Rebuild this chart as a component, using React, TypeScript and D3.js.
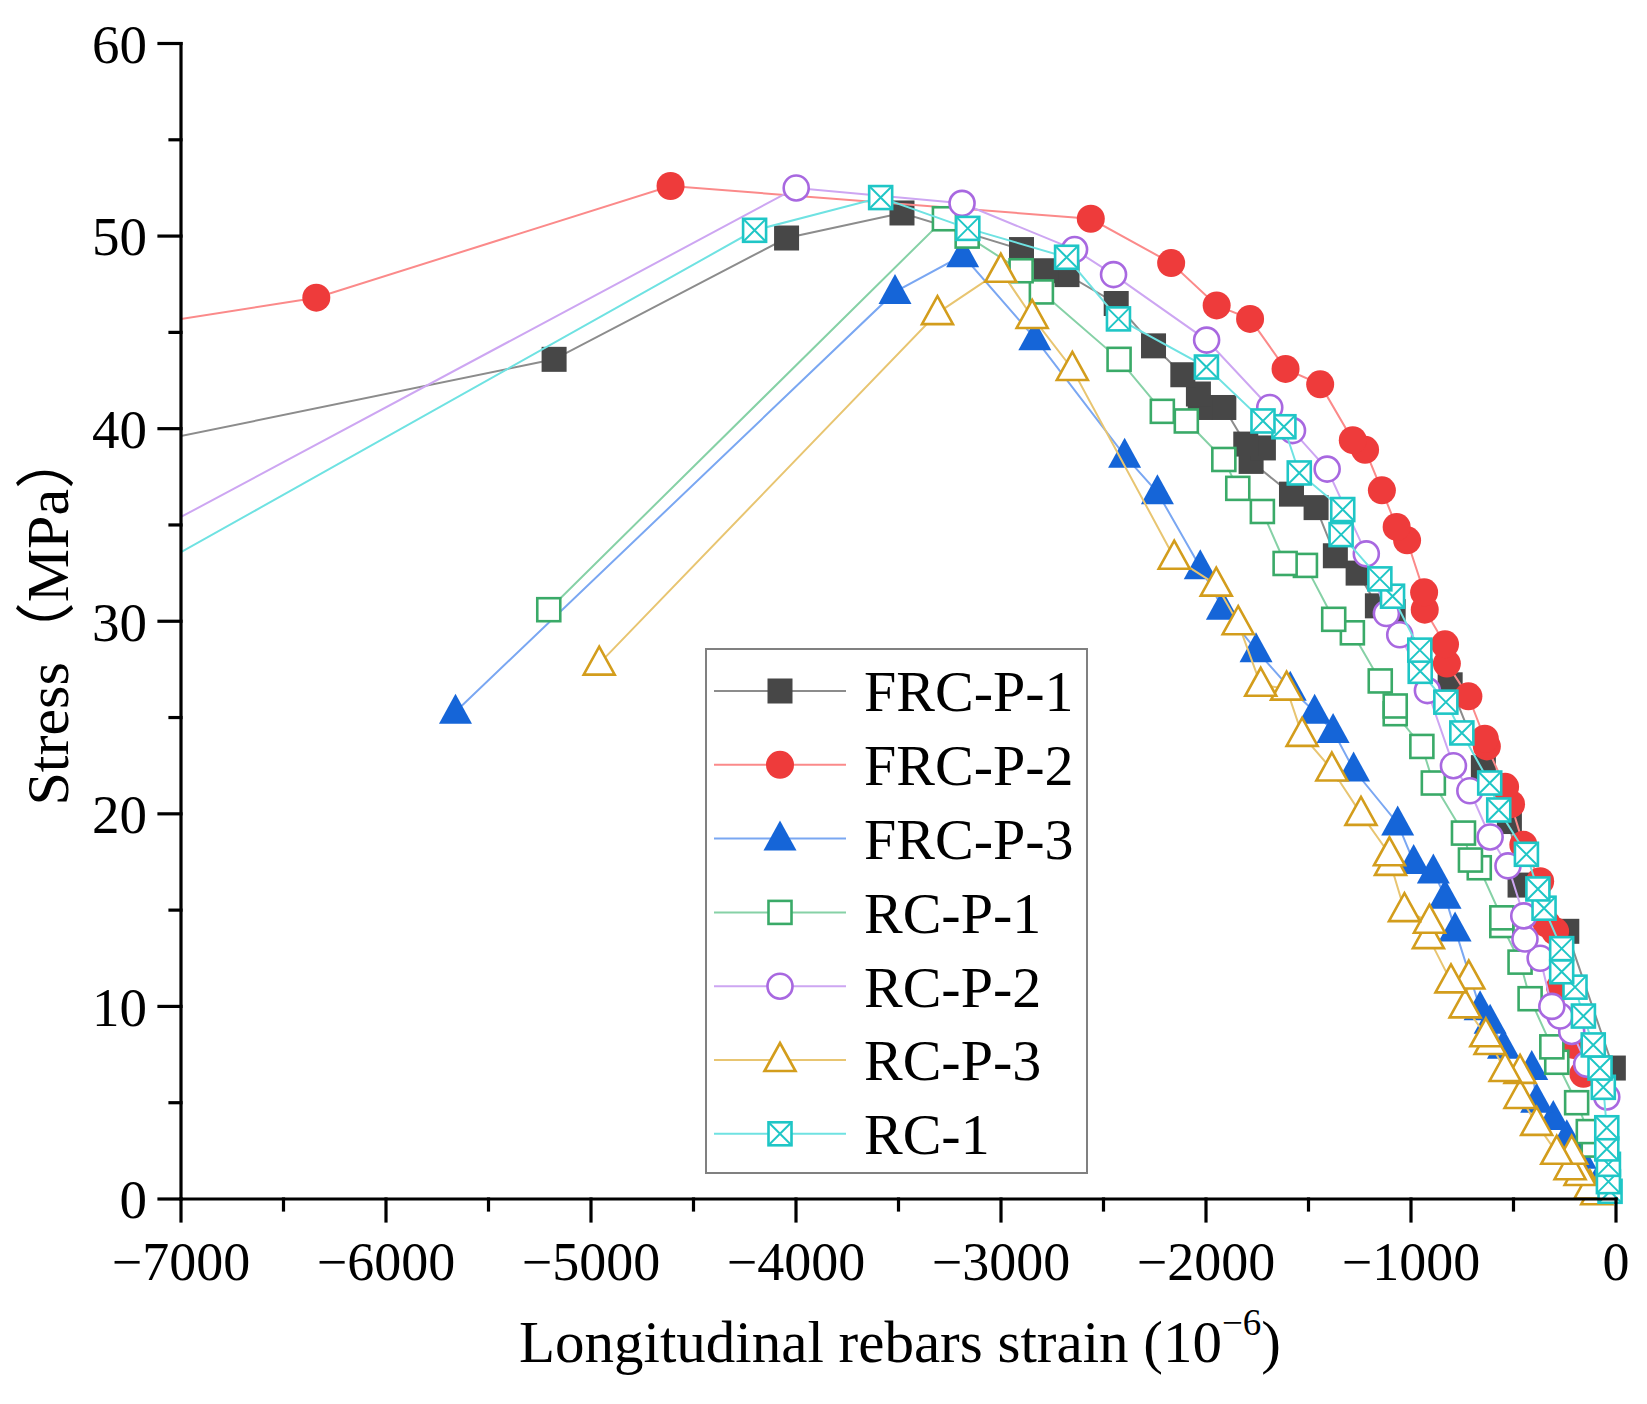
import * as d3 from 'd3'

// strain (10^-6), stress (MPa)
const frcP1: [number, number][] = [
  [-13, 6.8], [-240, 13.9], [-468, 16.3], [-520, 19.6], [-647, 22.4], [-809, 26.7],
  [-1087, 30.5], [-1164, 30.8], [-1258, 32.5], [-1369, 33.4], [-1463, 35.9], [-1583, 36.6],
  [-1780, 38.3], [-1720, 39.0], [-1806, 39.2], [-1913, 41.1], [-2028, 41.1], [-2037, 41.8],
  [-2113, 42.8], [-2256, 44.3], [-2438, 46.5], [-2678, 48.0], [-2780, 48.2], [-2900, 49.3],
  [-3483, 51.2], [-4046, 49.9], [-5180, 43.6], [-7600, 38.3],
]
const frcP2: [number, number][] = [
  [-159, 6.5], [-208, 8.0], [-273, 11.0], [-297, 13.9], [-338, 14.3], [-370, 16.5],
  [-452, 18.4], [-512, 20.5], [-541, 21.4], [-630, 23.5], [-640, 23.9], [-720, 26.1],
  [-825, 27.8], [-834, 28.8], [-933, 30.6], [-936, 31.5], [-1019, 34.2], [-1070, 34.9],
  [-1142, 36.8], [-1224, 38.9], [-1284, 39.4], [-1443, 42.3], [-1612, 43.1], [-1785, 45.7],
  [-1948, 46.4], [-2170, 48.6], [-2562, 50.9], [-4612, 52.6], [-6340, 46.8], [-7600, 44.7],
]
const frcP3: [number, number][] = [
  [-94, 0.8], [-175, 2.2], [-240, 3.2], [-306, 4.2], [-387, 5.1], [-411, 6.8],
  [-549, 7.9], [-614, 9.2], [-663, 9.9], [-785, 14.0], [-834, 15.7], [-891, 17.0],
  [-987, 17.5], [-1065, 19.5], [-1280, 22.3], [-1380, 24.3], [-1470, 25.3], [-1589, 26.5],
  [-1756, 28.5], [-1920, 30.7], [-2028, 32.8], [-2237, 36.7], [-2397, 38.6], [-2835, 44.7],
  [-3187, 49.0], [-3517, 47.1], [-5661, 25.3],
]
const rcP1: [number, number][] = [
  [-111, 2.8], [-135, 3.5], [-192, 5.0], [-289, 7.1], [-313, 7.9], [-419, 10.4],
  [-468, 12.3], [-557, 14.2], [-557, 14.6], [-667, 17.2], [-710, 17.6], [-744, 19.0],
  [-891, 21.6], [-947, 23.5], [-1077, 25.2], [-1077, 25.6], [-1150, 26.9], [-1286, 29.4],
  [-1377, 30.1], [-1515, 32.9], [-1614, 33.0], [-1725, 35.7], [-1845, 36.9], [-1913, 38.4],
  [-2096, 40.4], [-2213, 40.9], [-2424, 43.6], [-2803, 47.1], [-2902, 48.2], [-3165, 50.0],
  [-3276, 50.9], [-5206, 30.6],
]
const rcP2: [number, number][] = [
  [-45, 5.3], [-143, 7.0], [-216, 8.7], [-273, 9.5], [-313, 10.0], [-370, 12.5],
  [-444, 13.5], [-450, 14.7], [-527, 17.3], [-614, 18.8], [-713, 21.2], [-793, 22.5],
  [-920, 26.4], [-1055, 29.3], [-1120, 30.4], [-1218, 33.5], [-1409, 37.9], [-1578, 39.9],
  [-1689, 41.1], [-1997, 44.6], [-2451, 48.0], [-2641, 49.3], [-3190, 51.7], [-3999, 52.5],
  [-7600, 32.0],
]
const rcP3: [number, number][] = [
  [-94, 0.3], [-127, 0.6], [-175, 1.3], [-224, 1.6], [-216, 2.4], [-289, 2.4],
  [-387, 3.9], [-468, 5.3], [-468, 6.6], [-541, 6.7], [-614, 8.1], [-635, 8.5],
  [-736, 10.0], [-718, 11.5], [-805, 11.3], [-915, 13.6], [-910, 14.4], [-1032, 15.0],
  [-1100, 17.4], [-1105, 17.9], [-1244, 20.0], [-1386, 22.3], [-1531, 24.1], [-1607, 26.5],
  [-1733, 26.7], [-1843, 29.9], [-1950, 31.9], [-2155, 33.3], [-2652, 43.1], [-2848, 45.8],
  [-3001, 48.2], [-3310, 46.0], [-4960, 27.8],
]
const rc1: [number, number][] = [
  [-29, 0.4], [-37, 0.9], [-37, 1.8], [-45, 2.6], [-45, 3.7], [-62, 5.8],
  [-78, 6.8], [-111, 8.0], [-159, 9.5], [-200, 11.0], [-265, 11.8], [-265, 13.0],
  [-351, 15.1], [-381, 16.1], [-437, 17.9], [-572, 20.2], [-616, 21.6], [-752, 24.2],
  [-830, 25.8], [-955, 27.4], [-957, 28.5], [-1090, 31.3], [-1152, 32.2], [-1341, 34.5],
  [-1333, 35.8], [-1545, 37.7], [-1620, 40.1], [-1722, 40.4], [-1998, 43.2], [-2427, 45.7],
  [-2680, 48.9], [-3162, 50.4], [-3587, 52.0], [-4202, 50.3], [-7600, 30.0],
]

const seriesNames = ['FRC-P-1', 'FRC-P-2', 'FRC-P-3', 'RC-P-1', 'RC-P-2', 'RC-P-3', 'RC-1']
const xTicks = [-7000, -6000, -5000, -4000, -3000, -2000, -1000, 0]
const yTicks = [0, 10, 20, 30, 40, 50, 60]

type Shape = 'square' | 'circle' | 'triangle' | 'xsquare'
interface Series {
  name: string
  data: [number, number][]
  shape: Shape
  filled: boolean
  color: string
  lineColor: string
}

const series: Series[] = [
  { name: seriesNames[0], data: frcP1, shape: 'square', filled: true, color: '#474747', lineColor: '#8c8c8c' },
  { name: seriesNames[1], data: frcP2, shape: 'circle', filled: true, color: '#ee3b3b', lineColor: '#fb8a8a' },
  { name: seriesNames[2], data: frcP3, shape: 'triangle', filled: true, color: '#1565d8', lineColor: '#7aa7f2' },
  { name: seriesNames[3], data: rcP1, shape: 'square', filled: false, color: '#3aaa68', lineColor: '#86d1a6' },
  { name: seriesNames[4], data: rcP2, shape: 'circle', filled: false, color: '#a868e0', lineColor: '#cda6f2' },
  { name: seriesNames[5], data: rcP3, shape: 'triangle', filled: false, color: '#d39d1c', lineColor: '#e8c571' },
  { name: seriesNames[6], data: rc1, shape: 'xsquare', filled: false, color: '#1fc6c6', lineColor: '#6fe2e2' },
]

const W = 1647
const H = 1404
const X0 = 181
const X1 = 1616
const Y0 = 1199
const Y1 = 43.5
const FONT = '"Liberation Serif", "Times New Roman", serif'

function Marker({ s, x, y }: { s: Series; x: number; y: number }) {
  const fill = s.filled ? s.color : '#ffffff'
  const sw = s.filled ? 0 : 2.6
  if (s.shape === 'square') {
    const h = s.filled ? 12.5 : 11.5
    return <rect x={x - h} y={y - h} width={2 * h} height={2 * h} fill={fill} stroke={s.color} strokeWidth={sw} />
  }
  if (s.shape === 'circle') {
    return <circle cx={x} cy={y} r={s.filled ? 14 : 12.5} fill={fill} stroke={s.color} strokeWidth={sw} />
  }
  if (s.shape === 'triangle') {
    const hw = s.filled ? 16.5 : 15.5
    const hh = s.filled ? 15 : 14
    return (
      <path
        d={`M${x},${y - hh - 3}L${x + hw},${y + hh - 3}L${x - hw},${y + hh - 3}Z`}
        fill={fill}
        stroke={s.color}
        strokeWidth={sw}
        strokeLinejoin="miter"
      />
    )
  }
  const h = 11.5
  return (
    <g stroke={s.color} strokeWidth={2.6} fill={fill}>
      <rect x={x - h} y={y - h} width={2 * h} height={2 * h} />
      <path d={`M${x - h},${y - h}L${x + h},${y + h}M${x + h},${y - h}L${x - h},${y + h}`} fill="none" strokeWidth={2} />
    </g>
  )
}

export default function App() {
  const x = d3.scaleLinear().domain([-7000, 0]).range([X0, X1])
  const y = d3.scaleLinear().domain([0, 60]).range([Y0, Y1])
  const line = d3
    .line<[number, number]>()
    .x(d => x(d[0]))
    .y(d => y(d[1]))

  const xMinor = d3.range(-6500, 0, 1000)
  const yMinor = d3.range(5, 60, 10)

  const legX = 706
  const legY = 649
  const rowH = 73.8

  return (
    <div style={{ position: 'absolute', left: 0, top: 0 }}>
      <svg width={W} height={H} style={{ display: 'block', background: '#fff' }} fontFamily={FONT}>
        <defs>
          <clipPath id="plot">
            <rect x={X0} y={0} width={W - X0} height={Y0} />
          </clipPath>
        </defs>

        {series.map(s => (
          <g key={s.name}>
            <path d={line(s.data) ?? ''} fill="none" stroke={s.lineColor} strokeWidth={2} clipPath="url(#plot)" />
            {s.data
              .filter(d => d[0] >= -7000)
              .map((d, i) => (
                <Marker key={i} s={s} x={x(d[0])} y={y(d[1])} />
              ))}
          </g>
        ))}

        {/* axes */}
        <g stroke="#000" strokeWidth={3.2} strokeLinecap="square">
          <line x1={X0} y1={Y1} x2={X0} y2={Y0} />
          <line x1={X0} y1={Y0} x2={X1} y2={Y0} />
          {yTicks.map(t => (
            <line key={t} x1={X0 - 22} y1={y(t)} x2={X0} y2={y(t)} />
          ))}
          {yMinor.map(t => (
            <line key={t} x1={X0 - 11} y1={y(t)} x2={X0} y2={y(t)} />
          ))}
          {xTicks.map(t => (
            <line key={t} x1={x(t)} y1={Y0} x2={x(t)} y2={Y0 + 22} />
          ))}
          {xMinor.map(t => (
            <line key={t} x1={x(t)} y1={Y0} x2={x(t)} y2={Y0 + 11} />
          ))}
        </g>
        {yTicks.map(t => (
          <text key={t} x={X0 - 34} y={y(t)} dy="0.35em" textAnchor="end" fontSize={55}>
            {t}
          </text>
        ))}
        {xTicks.map(t => (
          <text key={t} x={x(t)} y={Y0 + 81} textAnchor="middle" fontSize={54}>
            {t < 0 ? `\u2212${Math.abs(t)}` : t}
          </text>
        ))}

        <text x={900} y={1362} textAnchor="middle" fontSize={59}>
          Longitudinal rebars strain (10
          <tspan fontSize={37} dy={-27}>{'\u22126'}</tspan>
          <tspan dy={27}>)</tspan>
        </text>
        <text
          transform={`translate(47,${(Y0 + Y1) / 2 - 4}) rotate(-90)`}
          textAnchor="middle"
          dy="0.35em"
          fontSize={60}
          fontFamily={`${FONT.replace(', serif', '')}, "Noto Sans CJK SC", serif`}
        >
          Stress（MPa）
        </text>

        {/* legend */}
        <rect x={legX} y={legY} width={381} height={524} fill="#fff" stroke="#808080" strokeWidth={2} />
        {series.map((s, i) => {
          const cy = legY + 42 + i * rowH
          return (
            <g key={s.name}>
              <line x1={legX + 8} y1={cy} x2={legX + 140} y2={cy} stroke={s.lineColor} strokeWidth={2} />
              <Marker s={s} x={legX + 74} y={cy} />
              <text x={legX + 158} y={cy} dy="0.35em" fontSize={58}>
                {s.name}
              </text>
            </g>
          )
        })}
      </svg>
    </div>
  )
}
